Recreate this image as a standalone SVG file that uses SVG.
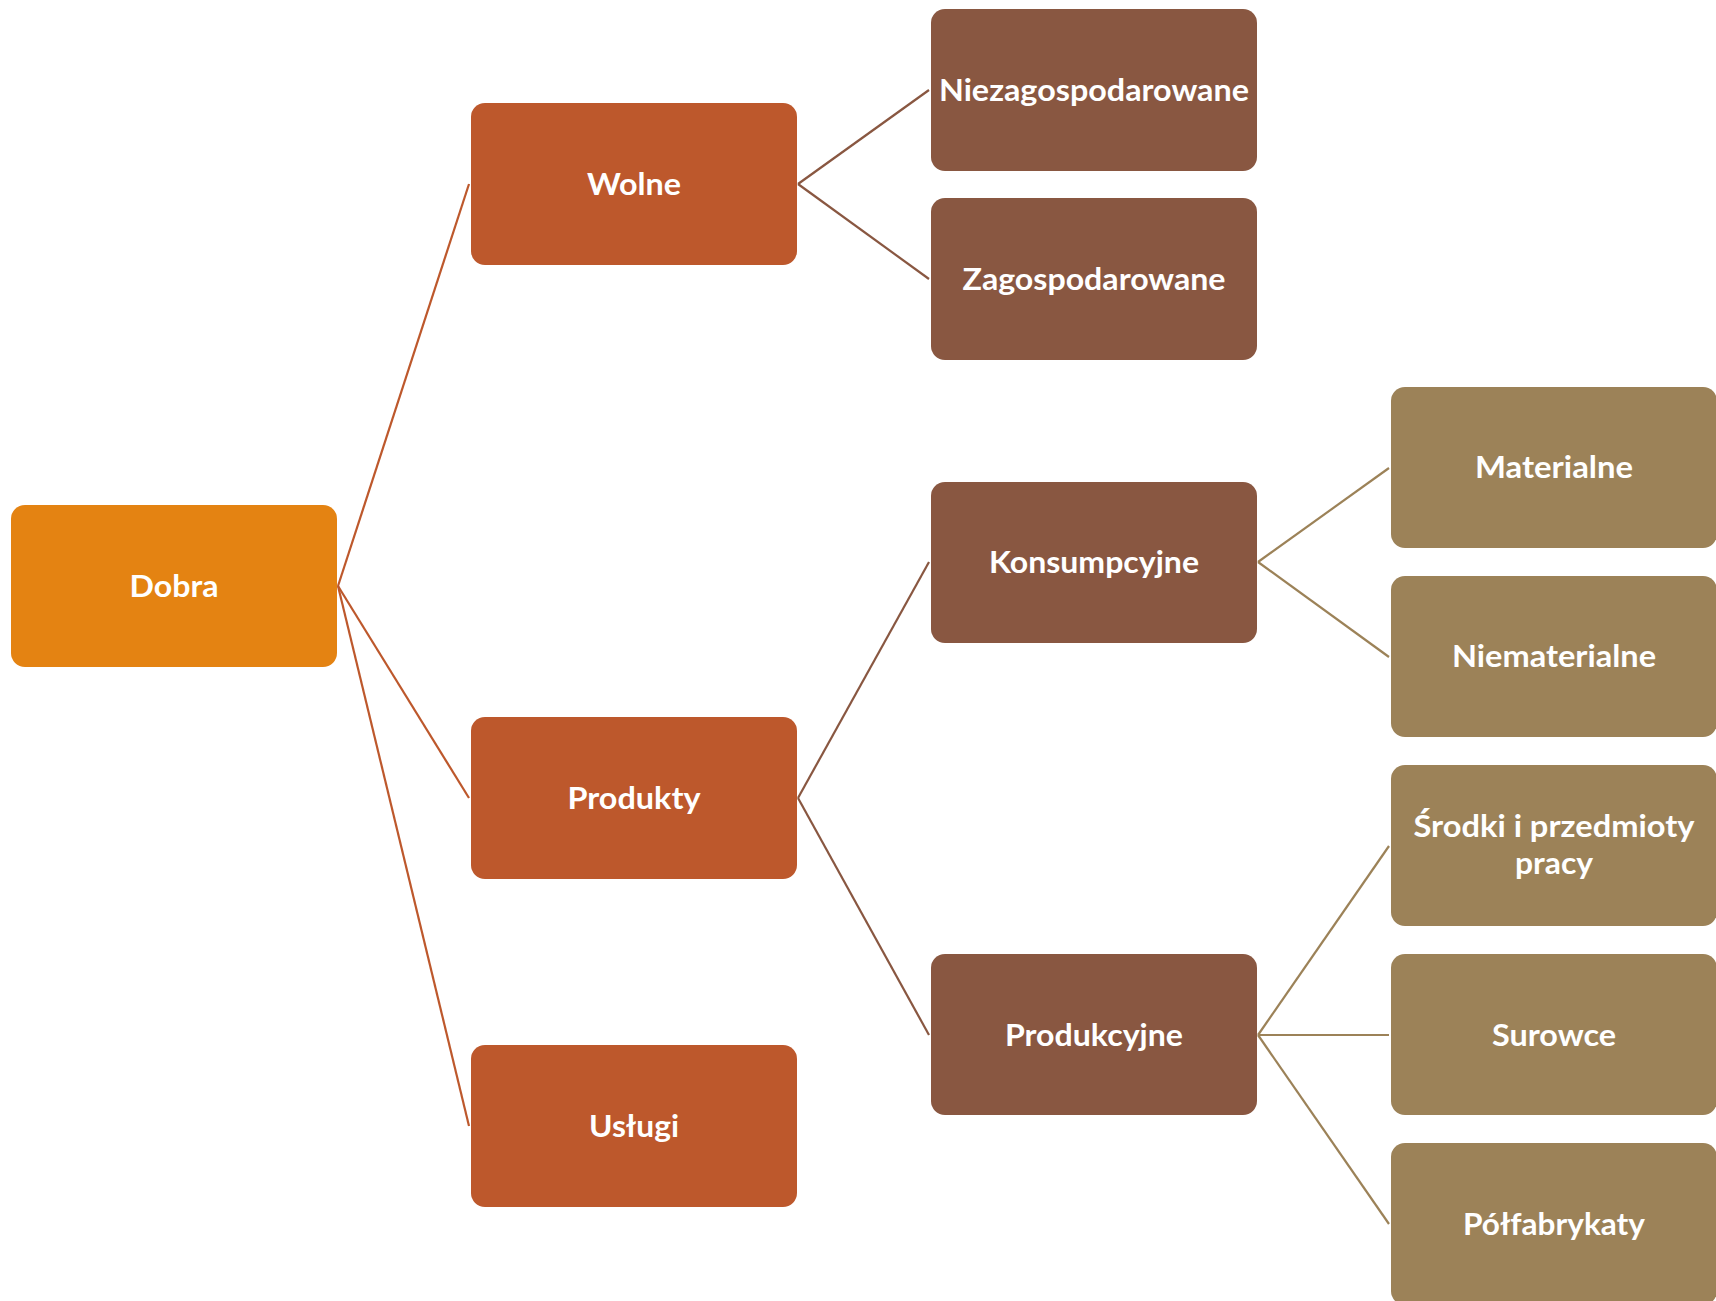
<svg xmlns="http://www.w3.org/2000/svg" width="1716" height="1301" viewBox="0 0 1716 1301">
<style>
  .n rect { rx: 14px; ry: 14px; }
  .l0 { fill: #E48312; }
  .l1 { fill: #BD582C; }
  .l2 { fill: #895741; }
  .l3 { fill: #9C8258; }
  text { font-family: "Lato", "Liberation Sans", sans-serif; font-weight: bold; font-size: 31px; fill: #FFFFFF; text-anchor: middle; }
  .c line { stroke-width: 2.2; fill: none; }
  .c1 line { stroke: #BD582C; }
  .c2 line { stroke: #895741; }
  .c3 line { stroke: #9C8258; }
</style>
<rect width="1716" height="1301" fill="#FFFFFF"/>
<g id="connectors" class="c">
  <g class="c1">
    <line x1="338" y1="586" x2="469" y2="184"/>
    <line x1="338" y1="586" x2="469" y2="798"/>
    <line x1="338" y1="586" x2="469" y2="1126"/>
  </g>
  <g class="c2">
    <line x1="798" y1="184" x2="929" y2="90"/>
    <line x1="798" y1="184" x2="929" y2="279"/>
    <line x1="798" y1="798" x2="929" y2="562"/>
    <line x1="798" y1="798" x2="929" y2="1035"/>
  </g>
  <g class="c3">
    <line x1="1258" y1="562" x2="1389" y2="468"/>
    <line x1="1258" y1="562" x2="1389" y2="657"/>
    <line x1="1258" y1="1035" x2="1389" y2="846"/>
    <line x1="1258" y1="1035" x2="1389" y2="1035"/>
    <line x1="1258" y1="1035" x2="1389" y2="1224"/>
  </g>
</g>
<g id="dobra" class="n"><rect class="l0" x="11" y="505" width="326" height="162"/><text x="174" y="597" textLength="89" lengthAdjust="spacingAndGlyphs">Dobra</text></g>
<g id="wolne" class="n"><rect class="l1" x="471" y="103" width="326" height="162"/><text x="634" y="195" textLength="94" lengthAdjust="spacingAndGlyphs">Wolne</text></g>
<g id="produkty" class="n"><rect class="l1" x="471" y="717" width="326" height="162"/><text x="634" y="809" textLength="133" lengthAdjust="spacingAndGlyphs">Produkty</text></g>
<g id="uslugi" class="n"><rect class="l1" x="471" y="1045" width="326" height="162"/><text x="634" y="1137" textLength="90" lengthAdjust="spacingAndGlyphs">Usługi</text></g>
<g id="niezagospodarowane" class="n"><rect class="l2" x="931" y="9" width="326" height="162"/><text x="1094" y="101" textLength="310" lengthAdjust="spacingAndGlyphs">Niezagospodarowane</text></g>
<g id="zagospodarowane" class="n"><rect class="l2" x="931" y="198" width="326" height="162"/><text x="1094" y="290" textLength="263" lengthAdjust="spacingAndGlyphs">Zagospodarowane</text></g>
<g id="konsumpcyjne" class="n"><rect class="l2" x="931" y="482" width="326" height="161"/><text x="1094" y="573" textLength="210" lengthAdjust="spacingAndGlyphs">Konsumpcyjne</text></g>
<g id="produkcyjne" class="n"><rect class="l2" x="931" y="954" width="326" height="161"/><text x="1094" y="1046" textLength="178" lengthAdjust="spacingAndGlyphs">Produkcyjne</text></g>
<g id="materialne" class="n"><rect class="l3" x="1391" y="387" width="326" height="161"/><text x="1554" y="478" textLength="158" lengthAdjust="spacingAndGlyphs">Materialne</text></g>
<g id="niematerialne" class="n"><rect class="l3" x="1391" y="576" width="326" height="161"/><text x="1554" y="667" textLength="204" lengthAdjust="spacingAndGlyphs">Niematerialne</text></g>
<g id="srodki" class="n"><rect class="l3" x="1391" y="765" width="326" height="161"/><text x="1554" y="837" textLength="281" lengthAdjust="spacingAndGlyphs">Środki i przedmioty</text><text x="1554" y="874" textLength="78" lengthAdjust="spacingAndGlyphs">pracy</text></g>
<g id="surowce" class="n"><rect class="l3" x="1391" y="954" width="326" height="161"/><text x="1554" y="1046" textLength="124" lengthAdjust="spacingAndGlyphs">Surowce</text></g>
<g id="polfabrykaty" class="n"><rect class="l3" x="1391" y="1143" width="326" height="162"/><text x="1554" y="1235" textLength="182" lengthAdjust="spacingAndGlyphs">Półfabrykaty</text></g>
</svg>
